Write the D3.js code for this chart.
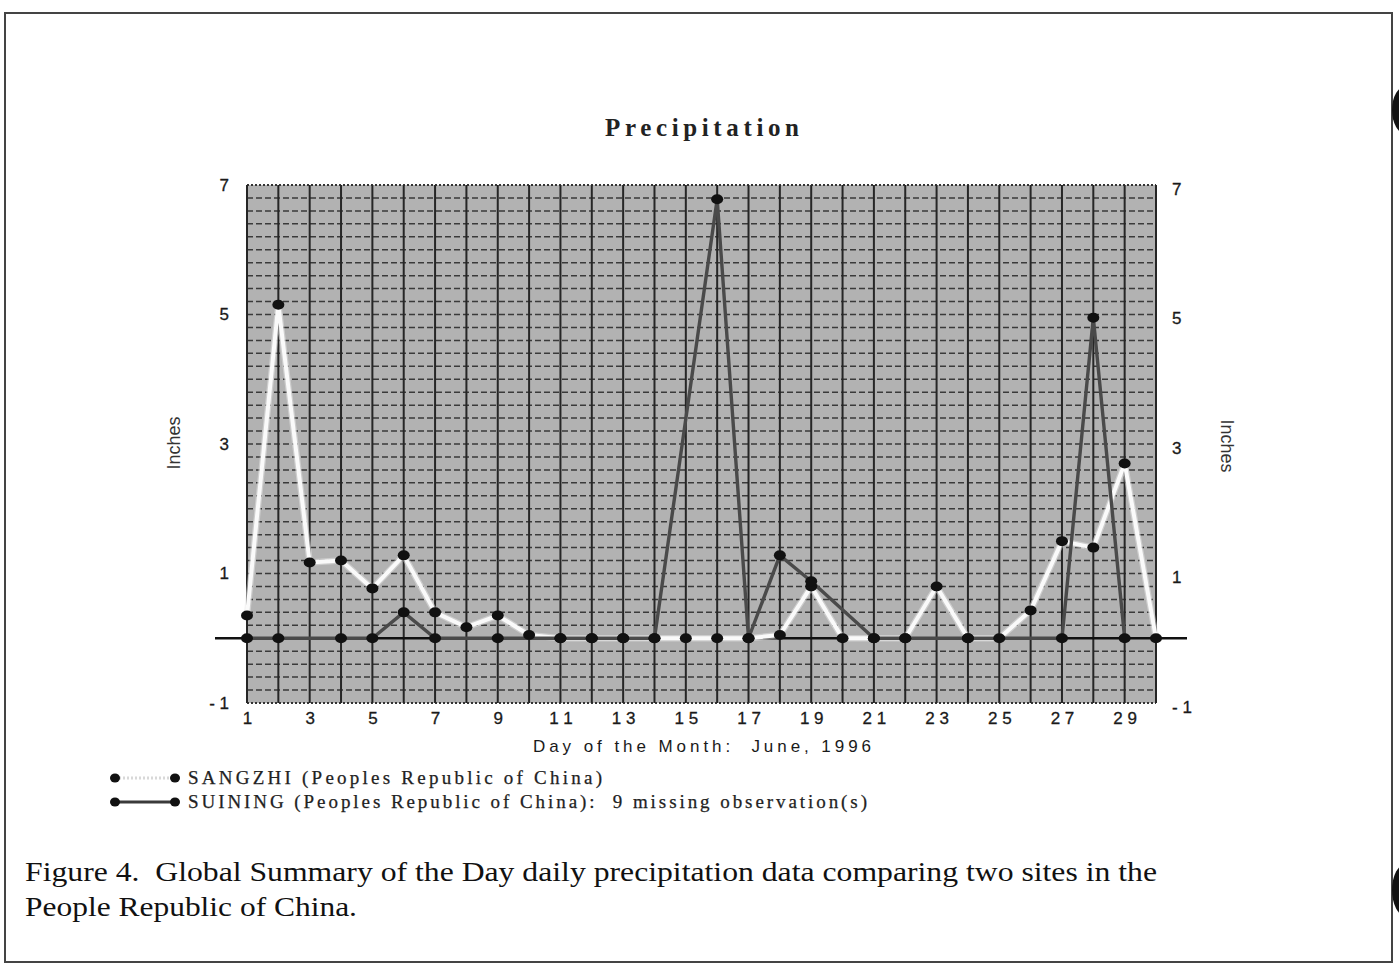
<!DOCTYPE html>
<html><head><meta charset="utf-8">
<script src="https://cdn.jsdelivr.net/npm/d3@7"></script>
<style>html,body{margin:0;padding:0;background:#fff;}svg{display:block;}text{white-space:pre;}</style>
</head><body>
<svg id="chart" width="1399" height="967"></svg>
<script>
const days = [1,2,3,4,5,6,7,8,9,10,11,12,13,14,15,16,17,18,19,20,21,22,23,24,25,26,27,28,29,30];
const sangzhi = [0.35,5.15,1.17,1.2,0.77,1.28,0.4,0.17,0.35,0.05,0,0,0,0,0,0,0,0.05,0.8,0,0,0,0.8,0,0,0.43,1.5,1.4,2.7,0];
const suining = [0,0,null,0,0,0.4,0,null,0,null,0,0,0,0,null,6.78,0,1.28,0.88,null,0,0,null,0,null,null,0,4.95,0,null];
const xTicks = [1,3,5,7,9,11,13,15,17,19,21,23,25,27,29];
const yTicks = [-1,1,3,5,7];
const titleText = "Precipitation";
const xTitle = "Day of the Month:  June, 1996";
const yTitle = "Inches";
const legendLabels = ["SANGZHI (Peoples Republic of China)", "SUINING (Peoples Republic of China):  9 missing observation(s)"];
const caption = ["Figure 4.  Global Summary of the Day daily precipitation data comparing two sites in the", "People Republic of China."];

const svg = d3.select("#chart");
const L = 247, R = 1156, T = 185, B = 703;
const x = d3.scaleLinear().domain([1,30]).range([L,R]);
const y = d3.scaleLinear().domain([-1,7]).range([B,T]);

// page border and binding holes
svg.append("rect").attr("x",5).attr("y",13).attr("width",1387).attr("height",949)
  .attr("fill","none").attr("stroke","#444").attr("stroke-width",2);
svg.append("ellipse").attr("cx",1406).attr("cy",110).attr("rx",14).attr("ry",24).attr("fill","#111");
svg.append("ellipse").attr("cx",1406).attr("cy",890).attr("rx",14).attr("ry",26).attr("fill","#111");

// title
svg.append("text").attr("x",702).attr("y",136).attr("text-anchor","middle")
  .attr("font-family","Liberation Serif, serif").attr("font-weight","bold").attr("font-size",25)
  .attr("textLength",194).attr("lengthAdjust","spacing").attr("fill","#222").text(titleText);

// plot background
svg.append("rect").attr("x",L).attr("y",T).attr("width",R-L).attr("height",B-T).attr("fill","#b2b2b2");

// horizontal dashed grid every 0.2
const hGrid = d3.range(-0.8, 7.0, 0.2).map(v => Math.round(v*10)/10);
svg.append("g").selectAll("line").data(hGrid).join("line")
  .attr("x1",L).attr("x2",R).attr("y1",d=>y(d)).attr("y2",d=>y(d))
  .attr("stroke","#3a3a3a").attr("stroke-width",1.5).attr("stroke-dasharray","6,3");
// top/bottom border dotted
svg.append("line").attr("x1",L).attr("x2",R).attr("y1",T).attr("y2",T)
  .attr("stroke","#333").attr("stroke-width",2).attr("stroke-dasharray","2,2");
svg.append("line").attr("x1",L).attr("x2",R).attr("y1",B).attr("y2",B)
  .attr("stroke","#333").attr("stroke-width",2).attr("stroke-dasharray","2,2");
// vertical grid at each day
svg.append("g").selectAll("line").data(days).join("line")
  .attr("x1",d=>x(d)).attr("x2",d=>x(d)).attr("y1",T).attr("y2",B)
  .attr("stroke","#262626").attr("stroke-width",2);

// zero line
svg.append("line").attr("x1",215).attr("x2",1187).attr("y1",y(0)).attr("y2",y(0))
  .attr("stroke","#111").attr("stroke-width",2.4);

// series
const sData = days.map((d,i)=>({d, v:sangzhi[i]}));
const nData = days.map((d,i)=>({d, v:suining[i]})).filter(p=>p.v!==null);
const line = d3.line().x(p=>x(p.d)).y(p=>y(p.v));

svg.append("path").attr("d",line(sData)).attr("fill","none")
  .attr("stroke","#e8e8e8").attr("stroke-width",6.5).attr("opacity",0.5).attr("stroke-linejoin","round");
svg.append("path").attr("d",line(sData)).attr("fill","none")
  .attr("stroke","#fafafa").attr("stroke-width",4).attr("stroke-linejoin","round");
svg.append("path").attr("d",line(nData)).attr("fill","none")
  .attr("stroke","#4a4a4a").attr("stroke-width",3.4).attr("stroke-linejoin","round");

svg.append("g").selectAll("ellipse").data(sData).join("ellipse")
  .attr("cx",p=>x(p.d)).attr("cy",p=>y(p.v)).attr("rx",6).attr("ry",5).attr("fill","#111");
svg.append("g").selectAll("ellipse").data(nData).join("ellipse")
  .attr("cx",p=>x(p.d)).attr("cy",p=>y(p.v)).attr("rx",6).attr("ry",5).attr("fill","#111");

// axes
const axFont = "Liberation Sans, Arial, sans-serif";
const left = svg.append("g").attr("transform",`translate(${L-18},0)`)
  .call(d3.axisLeft(y).tickValues(yTicks).tickSize(0).tickPadding(0).tickFormat(d=>d<0?"- "+Math.abs(d):d));
const right = svg.append("g").attr("transform",`translate(${R+16},4)`)
  .call(d3.axisRight(y).tickValues(yTicks).tickSize(0).tickPadding(0).tickFormat(d=>d<0?"- "+Math.abs(d):d));
const bottom = svg.append("g").attr("transform",`translate(0,${B+9})`)
  .call(d3.axisBottom(x).tickValues(xTicks).tickSize(0).tickPadding(0)
    .tickFormat(d=>String(d).split("").join(" ")));
[left,right,bottom].forEach(g=>{
  g.select(".domain").remove();
  g.selectAll("text").attr("font-family",axFont).attr("font-size",17).attr("fill","#1a1a1a")
    .attr("stroke","#1a1a1a").attr("stroke-width",0.3);
});

svg.append("text").attr("x",702).attr("y",752).attr("text-anchor","middle")
  .attr("font-family",axFont).attr("font-size",17).attr("fill","#1a1a1a")
  .attr("textLength",338).attr("lengthAdjust","spacing").text(xTitle);
svg.append("text").attr("transform","translate(180,443) rotate(-90)").attr("text-anchor","middle")
  .attr("font-family","Liberation Sans Narrow, Liberation Sans, sans-serif").attr("font-size",18).attr("fill","#333").text(yTitle);
svg.append("text").attr("transform","translate(1221,446) rotate(90)").attr("text-anchor","middle")
  .attr("font-family","Liberation Sans Narrow, Liberation Sans, sans-serif").attr("font-size",18).attr("fill","#333").text(yTitle);

// legend
const legY = [778, 802];
const legStroke = [{c:"#d8d8d8",dash:"2,2",w:3},{c:"#3a3a3a",dash:null,w:3}];
const legLen = [414, 679];
legendLabels.forEach((t,i)=>{
  const g = svg.append("g");
  g.append("line").attr("x1",115).attr("x2",175).attr("y1",legY[i]).attr("y2",legY[i])
    .attr("stroke",legStroke[i].c).attr("stroke-width",legStroke[i].w).attr("stroke-dasharray",legStroke[i].dash);
  g.append("ellipse").attr("cx",115).attr("cy",legY[i]).attr("rx",5).attr("ry",4.5).attr("fill","#111");
  g.append("ellipse").attr("cx",175).attr("cy",legY[i]).attr("rx",5).attr("ry",4.5).attr("fill","#111");
  g.append("text").attr("x",188).attr("y",legY[i]+6).attr("font-family","Liberation Serif, serif")
    .attr("font-size",19).attr("fill","#222").attr("stroke","#222").attr("stroke-width",0.25)
    .attr("textLength",legLen[i]).attr("lengthAdjust","spacing").text(t);
});

// caption
const capY = [881, 916];
const capLen = [1132, 332];
caption.forEach((t,i)=>{
  svg.append("text").attr("x",25).attr("y",capY[i]).attr("font-family","Liberation Serif, Times New Roman, serif")
    .attr("font-size",28).attr("fill","#111").attr("textLength",capLen[i]).attr("lengthAdjust","spacingAndGlyphs").text(t);
});
</script>
</body></html>
